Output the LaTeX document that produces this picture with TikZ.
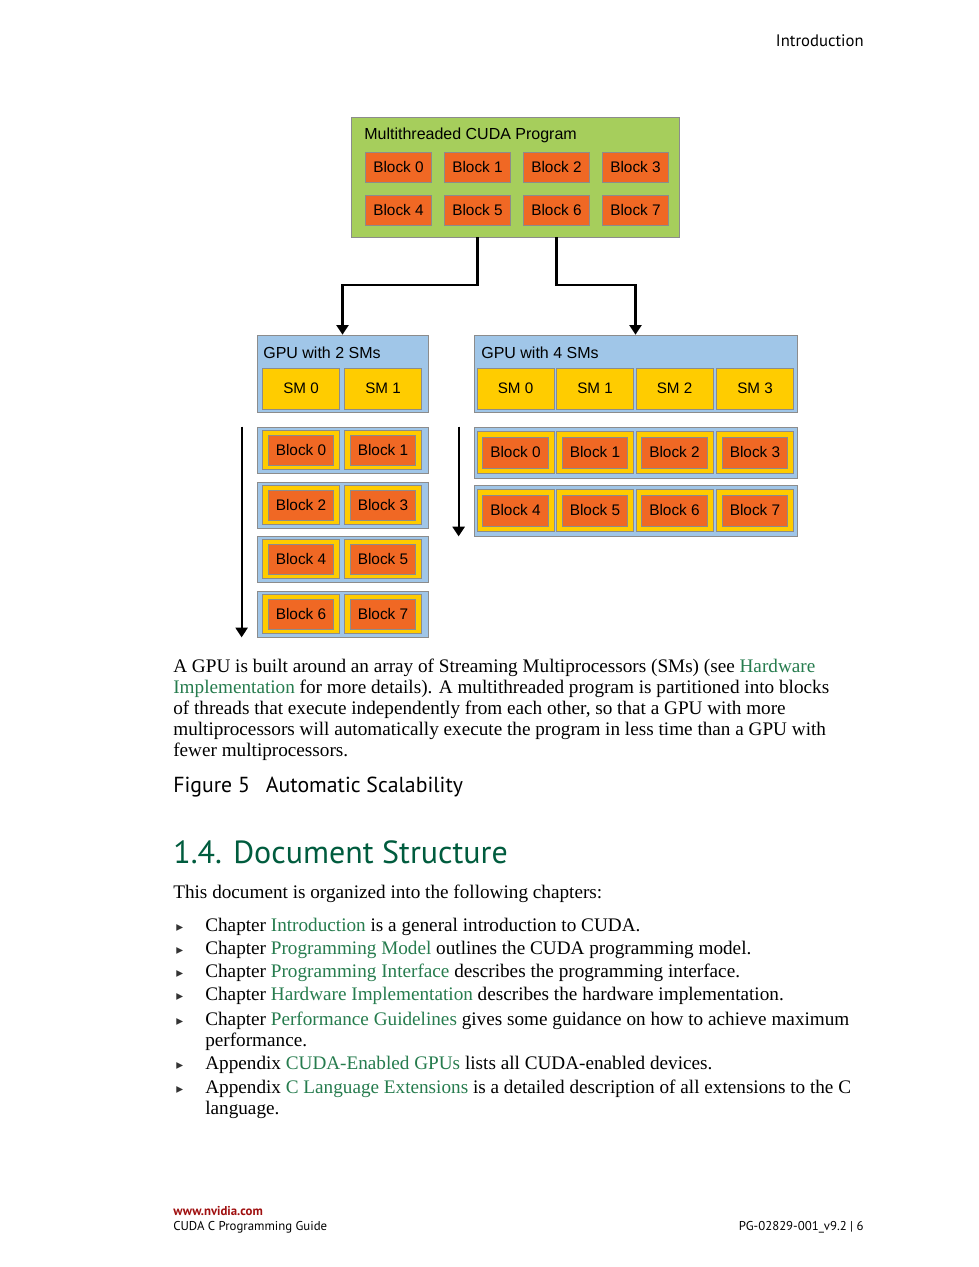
\documentclass[tikz,border=0pt]{standalone}
\usepackage{fontspec}
\setmainfont{Liberation Serif}
\setsansfont{Liberation Sans}
\newfontfamily\headfont{PT Sans}
\newfontfamily\symfont{DejaVu Sans}
\usetikzlibrary{positioning, arrows.meta}
\definecolor{progGreen}{RGB}{166,206,92}
\definecolor{blockOrange}{RGB}{240,104,36}
\definecolor{smYellow}{RGB}{255,204,0}
\definecolor{gpuBlue}{RGB}{160,198,232}
\definecolor{edgeGray}{RGB}{140,140,140}
\definecolor{linkGreen}{RGB}{38,124,78}
\definecolor{headGreen}{RGB}{0,92,62}
\definecolor{footRed}{RGB}{160,16,16}
\tikzset{
    prognode/.style={
        rectangle,
        draw=edgeGray, % 灰色边框
        fill=progGreen,
        minimum width=205pt,
        minimum height=75pt,
        inner sep=0
    },
    gpunode/.style={
        rectangle,
        draw=edgeGray,
        fill=gpuBlue,
        minimum height=48.1pt,
        inner sep=0
    },
    rownode/.style={
        rectangle,
        draw=edgeGray,
        fill=gpuBlue,
        inner sep=0
    },
    blocknode/.style={
        rectangle,
        draw=edgeGray,
        fill=blockOrange, % 橙色线程块
        minimum width=41pt,
        minimum height=18.75pt,
        inner sep=0,
        font=\sffamily\fontsize{9.6}{11}\selectfont
    },
    smnode/.style={
        rectangle,
        draw=edgeGray,
        fill=smYellow, % 黄色 SM
        minimum width=48pt,
        minimum height=25.6pt,
        inner sep=0,
        font=\sffamily\fontsize{9.5}{11}\selectfont
    },
    slotnode/.style={
        rectangle,
        draw=edgeGray,
        fill=smYellow,
        minimum width=48pt,
        inner sep=0
    },
    titletext/.style={
        inner sep=0,
        font=\sffamily\fontsize{10}{12}\selectfont
    },
    bodytext/.style={
        inner sep=0,
        align=left,
        font=\fontsize{12}{13.125}\selectfont
    },
    bullet/.style={
        inner sep=0,
        text=black!80,
        font=\symfont\fontsize{8.5}{10}\selectfont
    },
    foottext/.style={
        inner sep=0,
        font=\headfont\fontsize{8}{10}\selectfont
    },
    flow/.style={
        line width=1.3pt,
        -{Triangle[width=7.5pt,length=6pt]}
    }
}

\begin{document}
\begin{tikzpicture}[
        x=0.625pt, y=-0.625pt,
        every node/.style={inner sep=0}
    ]
    % 页面
    \fill[white] (0,0) rectangle (979,1267);
    \useasboundingbox (0,0) rectangle (979,1267);
    \node[font=\headfont\fontsize{10.4}{12}\selectfont, anchor=base east] (hdr) at (864,46) {Introduction};

    % 多线程程序
    \node[prognode] (prog) at (515,177) {};
    \node[titletext, anchor=west] (progT) at (364,135) {Multithreaded CUDA Program};
    \foreach \i/\x in {0/398.5,1/477.5,2/556.5,3/635.5} {
        \node[blocknode] (b\i) at (\x,167) {Block \i};
    }
    \foreach \i/\x in {4/398.5,5/477.5,6/556.5,7/635.5} {
        \node[blocknode] (b\i) at (\x,210) {Block \i};
    }

    % 两个 GPU
    \node[gpunode, minimum width=106.9pt] (gpuA) at (342.5,373.5) {};
    \node[titletext, anchor=west] (gpuAT) at (263,352.5) {GPU with 2 SMs};
    \node[smnode] (smA0) at (301,388.5) {SM 0};
    \node[smnode] (smA1) at (383,388.5) {SM 1};

    \node[gpunode, minimum width=201.9pt] (gpuB) at (635.5,373.5) {};
    \node[titletext, anchor=west] (gpuBT) at (481,352.5) {GPU with 4 SMs};
    \foreach \i/\x in {0/515.5,1/595,2/674.5,3/755} {
        \node[smnode] (smB\i) at (\x,388.5) {SM \i};
    }

    \coordinate (bend) at (0,285);
    \draw[flow] (prog.south -| b5) |- (bend -| gpuA.north) -- (gpuA.north);
    \draw[flow] (prog.south -| b6) |- (bend -| gpuB.north) -- (gpuB.north);

    % 2 个 SM 的调度
    \foreach \r/\y in {0/450,1/505,2/559,3/614} {
        \node[rownode, minimum width=106.9pt, minimum height=28.75pt] (rowA\r) at (342.5,\y) {};
        \foreach \c/\x in {0/301,1/383} {
            \pgfmathtruncatemacro{\b}{2*\r+\c}
            \node[slotnode, minimum height=24.4pt] (slotA\b) at (\x,\y) {};
            \node[blocknode] (blkA\b) at (\x,\y) {Block \b};
        }
    }
    % 4 个 SM 的调度
    \foreach \r/\y in {0/452.5,1/510.5} {
        \node[rownode, minimum width=201.9pt, minimum height=31.9pt] (rowB\r) at (635.5,\y) {};
        \foreach \c/\x in {0/515.5,1/595,2/674.5,3/755} {
            \pgfmathtruncatemacro{\b}{4*\r+\c}
            \node[slotnode, minimum height=26.25pt] (slotB\b) at (\x,\y) {};
            \node[blocknode, minimum height=19.4pt] (blkB\b) at (\x,\y) {Block \b};
        }
    }
    \draw[flow] ([xshift=-9.4pt]rowA0.north west) -- ([xshift=-9.4pt]rowA3.south west);
    \draw[flow] ([xshift=-9.4pt]rowB0.north west) -- ([xshift=-9.4pt]rowB1.south west);

    % 正文 (多行节点的 base 在最后一行)
    \node[bodytext, anchor=base west] (para) at (173,756) {A GPU is built around an array of Streaming Multiprocessors (SMs) (see \textcolor{linkGreen}{Hardware}\\
        \textcolor{linkGreen}{Implementation} for more details). A multithreaded program is partitioned into blocks\\
        of threads that execute independently from each other, so that a GPU with more\\
        multiprocessors will automatically execute the program in less time than a GPU with\\
        fewer multiprocessors.};
    \node[font=\headfont\fontsize{13.6}{16}\selectfont, anchor=base west] (cap) at (173,792) {Figure 5\hspace{10pt}Automatic Scalability};

    \node[font=\headfont\fontsize{20}{24}\selectfont, text=headGreen, anchor=base west] (sec) at (173,863) {1.4. Document Structure};
    \node[bodytext, anchor=base west] (intro) at (173,898) {This document is organized into the following chapters:};

    \foreach \n/\y in {1/931,2/954,3/977,4/1000,5/1025,6/1069,7/1093} {
        \node[bullet, anchor=base west] (bul\n) at (176,\y) {▸};
    }
    \node[bodytext, anchor=base west] (item1) at (205,931) {Chapter \textcolor{linkGreen}{Introduction} is a general introduction to CUDA.};
    \node[bodytext, anchor=base west] (item2) at (205,954) {Chapter \textcolor{linkGreen}{Programming Model} outlines the CUDA programming model.};
    \node[bodytext, anchor=base west] (item3) at (205,977) {Chapter \textcolor{linkGreen}{Programming Interface} describes the programming interface.};
    \node[bodytext, anchor=base west] (item4) at (205,1000) {Chapter \textcolor{linkGreen}{Hardware Implementation} describes the hardware implementation.};
    \node[bodytext, anchor=base west] (item5) at (205,1046) {Chapter \textcolor{linkGreen}{Performance Guidelines} gives some guidance on how to achieve maximum\\performance.};
    \node[bodytext, anchor=base west] (item6) at (205,1069) {Appendix \textcolor{linkGreen}{CUDA-Enabled GPUs} lists all CUDA-enabled devices.};
    \node[bodytext, anchor=base west] (item7) at (205,1114) {Appendix \textcolor{linkGreen}{C Language Extensions} is a detailed description of all extensions to the C\\language.};

    % 页脚
    \node[foottext, anchor=base west, text=footRed, font=\headfont\bfseries\fontsize{8}{10}\selectfont] (web) at (173,1215) {www.nvidia.com};
    \node[foottext, anchor=base west] (guide) at (173,1230) {CUDA C Programming Guide};
    \node[foottext, anchor=base east] (docid) at (864,1230) {PG-02829-001\_v9.2 | 6};
\end{tikzpicture}
\end{document}
